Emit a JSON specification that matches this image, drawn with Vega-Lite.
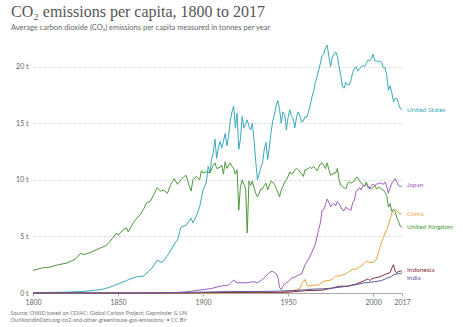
{
  "$schema": "https://vega.github.io/schema/vega-lite/v6.json",
  "width": 369,
  "height": 249,
  "autosize": {"type": "none"},
  "padding": {"left": 33, "top": 44, "right": 61, "bottom": 34},
  "background": "white",
  "config": {"view": {"stroke": null}, "font": "Lato"},
  "title": {
    "text": "CO₂ emissions per capita, 1800 to 2017",
    "subtitle": "Average carbon dioxide (CO₂) emissions per capita measured in tonnes per year",
    "anchor": "start",
    "frame": "group",
    "dx": -22,
    "offset": 12,
    "font": "Liberation Serif",
    "fontSize": 16,
    "fontWeight": "normal",
    "color": "#555555",
    "subtitleFont": "Lato",
    "subtitleFontSize": 7.5,
    "subtitleColor": "#666666",
    "subtitlePadding": 4
  },
  "datasets": {
    "co2": [
      {"country": "United States", "year": 1800, "value": 0.03},
      {"country": "United States", "year": 1810, "value": 0.05},
      {"country": "United States", "year": 1820, "value": 0.08},
      {"country": "United States", "year": 1830, "value": 0.15},
      {"country": "United States", "year": 1840, "value": 0.3},
      {"country": "United States", "year": 1845, "value": 0.5},
      {"country": "United States", "year": 1850, "value": 0.8},
      {"country": "United States", "year": 1855, "value": 1.1},
      {"country": "United States", "year": 1860, "value": 1.4},
      {"country": "United States", "year": 1865, "value": 1.5},
      {"country": "United States", "year": 1868, "value": 1.9},
      {"country": "United States", "year": 1870, "value": 2.2},
      {"country": "United States", "year": 1873, "value": 2.9},
      {"country": "United States", "year": 1876, "value": 2.7},
      {"country": "United States", "year": 1880, "value": 3.5},
      {"country": "United States", "year": 1883, "value": 4.3},
      {"country": "United States", "year": 1885, "value": 4.7},
      {"country": "United States", "year": 1887, "value": 5.8},
      {"country": "United States", "year": 1890, "value": 6.0},
      {"country": "United States", "year": 1893, "value": 6.6},
      {"country": "United States", "year": 1894, "value": 6.2},
      {"country": "United States", "year": 1896, "value": 6.8},
      {"country": "United States", "year": 1898, "value": 7.6},
      {"country": "United States", "year": 1900, "value": 9.1},
      {"country": "United States", "year": 1902, "value": 9.8},
      {"country": "United States", "year": 1903, "value": 11.2},
      {"country": "United States", "year": 1904, "value": 10.6},
      {"country": "United States", "year": 1905, "value": 11.8},
      {"country": "United States", "year": 1906, "value": 12.4},
      {"country": "United States", "year": 1907, "value": 13.6},
      {"country": "United States", "year": 1908, "value": 11.9},
      {"country": "United States", "year": 1909, "value": 12.8},
      {"country": "United States", "year": 1910, "value": 13.4},
      {"country": "United States", "year": 1911, "value": 12.8},
      {"country": "United States", "year": 1912, "value": 13.4},
      {"country": "United States", "year": 1913, "value": 14.1},
      {"country": "United States", "year": 1914, "value": 13.0},
      {"country": "United States", "year": 1915, "value": 13.8},
      {"country": "United States", "year": 1916, "value": 15.2},
      {"country": "United States", "year": 1917, "value": 16.0},
      {"country": "United States", "year": 1918, "value": 16.5},
      {"country": "United States", "year": 1919, "value": 14.6},
      {"country": "United States", "year": 1920, "value": 15.9},
      {"country": "United States", "year": 1921, "value": 12.7},
      {"country": "United States", "year": 1922, "value": 13.6},
      {"country": "United States", "year": 1923, "value": 15.6},
      {"country": "United States", "year": 1924, "value": 14.6},
      {"country": "United States", "year": 1925, "value": 14.9},
      {"country": "United States", "year": 1926, "value": 15.3},
      {"country": "United States", "year": 1927, "value": 14.7},
      {"country": "United States", "year": 1928, "value": 14.4},
      {"country": "United States", "year": 1929, "value": 15.0},
      {"country": "United States", "year": 1930, "value": 13.5},
      {"country": "United States", "year": 1931, "value": 11.6},
      {"country": "United States", "year": 1932, "value": 10.0},
      {"country": "United States", "year": 1933, "value": 10.5},
      {"country": "United States", "year": 1934, "value": 11.1},
      {"country": "United States", "year": 1935, "value": 11.5},
      {"country": "United States", "year": 1936, "value": 12.7},
      {"country": "United States", "year": 1937, "value": 13.3},
      {"country": "United States", "year": 1938, "value": 11.8},
      {"country": "United States", "year": 1939, "value": 12.9},
      {"country": "United States", "year": 1940, "value": 14.2},
      {"country": "United States", "year": 1941, "value": 15.2},
      {"country": "United States", "year": 1942, "value": 15.8},
      {"country": "United States", "year": 1943, "value": 16.6},
      {"country": "United States", "year": 1944, "value": 17.0},
      {"country": "United States", "year": 1945, "value": 16.2},
      {"country": "United States", "year": 1946, "value": 15.0},
      {"country": "United States", "year": 1947, "value": 16.0},
      {"country": "United States", "year": 1948, "value": 15.8},
      {"country": "United States", "year": 1949, "value": 14.4},
      {"country": "United States", "year": 1950, "value": 15.5},
      {"country": "United States", "year": 1951, "value": 16.2},
      {"country": "United States", "year": 1952, "value": 15.6},
      {"country": "United States", "year": 1953, "value": 15.4},
      {"country": "United States", "year": 1954, "value": 14.6},
      {"country": "United States", "year": 1955, "value": 15.6},
      {"country": "United States", "year": 1956, "value": 16.0},
      {"country": "United States", "year": 1957, "value": 15.6},
      {"country": "United States", "year": 1958, "value": 15.1},
      {"country": "United States", "year": 1959, "value": 15.2},
      {"country": "United States", "year": 1960, "value": 15.6},
      {"country": "United States", "year": 1961, "value": 15.5},
      {"country": "United States", "year": 1962, "value": 16.0},
      {"country": "United States", "year": 1963, "value": 16.6},
      {"country": "United States", "year": 1964, "value": 17.3},
      {"country": "United States", "year": 1965, "value": 17.8},
      {"country": "United States", "year": 1966, "value": 18.6},
      {"country": "United States", "year": 1967, "value": 19.1},
      {"country": "United States", "year": 1968, "value": 19.7},
      {"country": "United States", "year": 1969, "value": 20.3},
      {"country": "United States", "year": 1970, "value": 21.0},
      {"country": "United States", "year": 1971, "value": 21.1},
      {"country": "United States", "year": 1972, "value": 21.7},
      {"country": "United States", "year": 1973, "value": 21.9},
      {"country": "United States", "year": 1974, "value": 20.9},
      {"country": "United States", "year": 1975, "value": 20.0},
      {"country": "United States", "year": 1976, "value": 20.8},
      {"country": "United States", "year": 1977, "value": 21.1},
      {"country": "United States", "year": 1978, "value": 21.3},
      {"country": "United States", "year": 1979, "value": 20.9},
      {"country": "United States", "year": 1980, "value": 20.0},
      {"country": "United States", "year": 1981, "value": 19.2},
      {"country": "United States", "year": 1982, "value": 18.2},
      {"country": "United States", "year": 1983, "value": 18.1},
      {"country": "United States", "year": 1984, "value": 18.6},
      {"country": "United States", "year": 1985, "value": 18.4},
      {"country": "United States", "year": 1986, "value": 18.4},
      {"country": "United States", "year": 1987, "value": 18.8},
      {"country": "United States", "year": 1988, "value": 19.5},
      {"country": "United States", "year": 1989, "value": 19.8},
      {"country": "United States", "year": 1990, "value": 20.0},
      {"country": "United States", "year": 1991, "value": 19.6},
      {"country": "United States", "year": 1992, "value": 19.8},
      {"country": "United States", "year": 1993, "value": 20.0},
      {"country": "United States", "year": 1994, "value": 20.1},
      {"country": "United States", "year": 1995, "value": 20.0},
      {"country": "United States", "year": 1996, "value": 20.3},
      {"country": "United States", "year": 1997, "value": 20.6},
      {"country": "United States", "year": 1998, "value": 20.5},
      {"country": "United States", "year": 1999, "value": 20.7},
      {"country": "United States", "year": 2000, "value": 21.1},
      {"country": "United States", "year": 2001, "value": 20.5},
      {"country": "United States", "year": 2002, "value": 20.5},
      {"country": "United States", "year": 2003, "value": 20.4},
      {"country": "United States", "year": 2004, "value": 20.5},
      {"country": "United States", "year": 2005, "value": 20.4},
      {"country": "United States", "year": 2006, "value": 19.9},
      {"country": "United States", "year": 2007, "value": 19.9},
      {"country": "United States", "year": 2008, "value": 19.3},
      {"country": "United States", "year": 2009, "value": 17.9},
      {"country": "United States", "year": 2010, "value": 18.3},
      {"country": "United States", "year": 2011, "value": 17.7},
      {"country": "United States", "year": 2012, "value": 16.9},
      {"country": "United States", "year": 2013, "value": 17.2},
      {"country": "United States", "year": 2014, "value": 17.2},
      {"country": "United States", "year": 2015, "value": 16.7},
      {"country": "United States", "year": 2016, "value": 16.3},
      {"country": "United States", "year": 2017, "value": 16.2},

      {"country": "United Kingdom", "year": 1800, "value": 2.0},
      {"country": "United Kingdom", "year": 1805, "value": 2.2},
      {"country": "United Kingdom", "year": 1810, "value": 2.3},
      {"country": "United Kingdom", "year": 1815, "value": 2.5},
      {"country": "United Kingdom", "year": 1820, "value": 2.65},
      {"country": "United Kingdom", "year": 1825, "value": 3.0},
      {"country": "United Kingdom", "year": 1828, "value": 3.5},
      {"country": "United Kingdom", "year": 1830, "value": 3.4},
      {"country": "United Kingdom", "year": 1834, "value": 3.6},
      {"country": "United Kingdom", "year": 1837, "value": 3.8},
      {"country": "United Kingdom", "year": 1840, "value": 4.0},
      {"country": "United Kingdom", "year": 1843, "value": 4.2},
      {"country": "United Kingdom", "year": 1845, "value": 4.5},
      {"country": "United Kingdom", "year": 1847, "value": 4.9},
      {"country": "United Kingdom", "year": 1849, "value": 5.3},
      {"country": "United Kingdom", "year": 1850, "value": 5.1},
      {"country": "United Kingdom", "year": 1853, "value": 5.6},
      {"country": "United Kingdom", "year": 1855, "value": 5.75},
      {"country": "United Kingdom", "year": 1856, "value": 5.4},
      {"country": "United Kingdom", "year": 1859, "value": 6.2},
      {"country": "United Kingdom", "year": 1861, "value": 6.6},
      {"country": "United Kingdom", "year": 1863, "value": 6.9},
      {"country": "United Kingdom", "year": 1865, "value": 7.4},
      {"country": "United Kingdom", "year": 1867, "value": 8.0},
      {"country": "United Kingdom", "year": 1869, "value": 8.1},
      {"country": "United Kingdom", "year": 1871, "value": 8.7},
      {"country": "United Kingdom", "year": 1873, "value": 9.3},
      {"country": "United Kingdom", "year": 1875, "value": 9.0},
      {"country": "United Kingdom", "year": 1877, "value": 9.1},
      {"country": "United Kingdom", "year": 1879, "value": 8.8},
      {"country": "United Kingdom", "year": 1881, "value": 9.6},
      {"country": "United Kingdom", "year": 1883, "value": 10.1},
      {"country": "United Kingdom", "year": 1885, "value": 9.6},
      {"country": "United Kingdom", "year": 1887, "value": 10.0},
      {"country": "United Kingdom", "year": 1889, "value": 10.3},
      {"country": "United Kingdom", "year": 1890, "value": 10.4},
      {"country": "United Kingdom", "year": 1892, "value": 9.4},
      {"country": "United Kingdom", "year": 1893, "value": 9.0},
      {"country": "United Kingdom", "year": 1894, "value": 10.0},
      {"country": "United Kingdom", "year": 1896, "value": 10.3},
      {"country": "United Kingdom", "year": 1898, "value": 10.0},
      {"country": "United Kingdom", "year": 1899, "value": 10.8},
      {"country": "United Kingdom", "year": 1900, "value": 10.6},
      {"country": "United Kingdom", "year": 1902, "value": 10.7},
      {"country": "United Kingdom", "year": 1904, "value": 10.6},
      {"country": "United Kingdom", "year": 1906, "value": 11.3},
      {"country": "United Kingdom", "year": 1907, "value": 11.5},
      {"country": "United Kingdom", "year": 1908, "value": 11.0},
      {"country": "United Kingdom", "year": 1910, "value": 11.1},
      {"country": "United Kingdom", "year": 1911, "value": 11.3},
      {"country": "United Kingdom", "year": 1912, "value": 10.5},
      {"country": "United Kingdom", "year": 1913, "value": 11.6},
      {"country": "United Kingdom", "year": 1914, "value": 11.0},
      {"country": "United Kingdom", "year": 1916, "value": 11.5},
      {"country": "United Kingdom", "year": 1917, "value": 11.2},
      {"country": "United Kingdom", "year": 1918, "value": 11.0},
      {"country": "United Kingdom", "year": 1919, "value": 10.5},
      {"country": "United Kingdom", "year": 1920, "value": 10.9},
      {"country": "United Kingdom", "year": 1921, "value": 7.3},
      {"country": "United Kingdom", "year": 1922, "value": 9.4},
      {"country": "United Kingdom", "year": 1923, "value": 10.0},
      {"country": "United Kingdom", "year": 1924, "value": 9.6},
      {"country": "United Kingdom", "year": 1925, "value": 9.3},
      {"country": "United Kingdom", "year": 1926, "value": 5.3},
      {"country": "United Kingdom", "year": 1927, "value": 9.9},
      {"country": "United Kingdom", "year": 1928, "value": 9.5},
      {"country": "United Kingdom", "year": 1929, "value": 9.9},
      {"country": "United Kingdom", "year": 1930, "value": 9.3},
      {"country": "United Kingdom", "year": 1931, "value": 8.8},
      {"country": "United Kingdom", "year": 1932, "value": 8.5},
      {"country": "United Kingdom", "year": 1933, "value": 8.8},
      {"country": "United Kingdom", "year": 1934, "value": 9.2},
      {"country": "United Kingdom", "year": 1935, "value": 9.2},
      {"country": "United Kingdom", "year": 1936, "value": 9.5},
      {"country": "United Kingdom", "year": 1937, "value": 9.7},
      {"country": "United Kingdom", "year": 1938, "value": 9.1},
      {"country": "United Kingdom", "year": 1939, "value": 9.5},
      {"country": "United Kingdom", "year": 1940, "value": 9.9},
      {"country": "United Kingdom", "year": 1941, "value": 9.8},
      {"country": "United Kingdom", "year": 1942, "value": 9.6},
      {"country": "United Kingdom", "year": 1943, "value": 9.2},
      {"country": "United Kingdom", "year": 1944, "value": 8.9},
      {"country": "United Kingdom", "year": 1945, "value": 8.5},
      {"country": "United Kingdom", "year": 1946, "value": 9.1},
      {"country": "United Kingdom", "year": 1947, "value": 9.4},
      {"country": "United Kingdom", "year": 1948, "value": 9.8},
      {"country": "United Kingdom", "year": 1949, "value": 10.0},
      {"country": "United Kingdom", "year": 1950, "value": 10.3},
      {"country": "United Kingdom", "year": 1951, "value": 10.7},
      {"country": "United Kingdom", "year": 1952, "value": 10.5},
      {"country": "United Kingdom", "year": 1953, "value": 10.6},
      {"country": "United Kingdom", "year": 1954, "value": 10.9},
      {"country": "United Kingdom", "year": 1955, "value": 11.0},
      {"country": "United Kingdom", "year": 1956, "value": 10.9},
      {"country": "United Kingdom", "year": 1957, "value": 10.7},
      {"country": "United Kingdom", "year": 1958, "value": 10.5},
      {"country": "United Kingdom", "year": 1959, "value": 10.3},
      {"country": "United Kingdom", "year": 1960, "value": 10.9},
      {"country": "United Kingdom", "year": 1961, "value": 10.9},
      {"country": "United Kingdom", "year": 1962, "value": 11.0},
      {"country": "United Kingdom", "year": 1963, "value": 11.1},
      {"country": "United Kingdom", "year": 1964, "value": 11.0},
      {"country": "United Kingdom", "year": 1965, "value": 11.2},
      {"country": "United Kingdom", "year": 1966, "value": 11.0},
      {"country": "United Kingdom", "year": 1967, "value": 10.8},
      {"country": "United Kingdom", "year": 1968, "value": 11.1},
      {"country": "United Kingdom", "year": 1969, "value": 11.4},
      {"country": "United Kingdom", "year": 1970, "value": 11.5},
      {"country": "United Kingdom", "year": 1971, "value": 11.3},
      {"country": "United Kingdom", "year": 1972, "value": 11.0},
      {"country": "United Kingdom", "year": 1973, "value": 11.5},
      {"country": "United Kingdom", "year": 1974, "value": 10.9},
      {"country": "United Kingdom", "year": 1975, "value": 10.4},
      {"country": "United Kingdom", "year": 1976, "value": 10.5},
      {"country": "United Kingdom", "year": 1977, "value": 10.6},
      {"country": "United Kingdom", "year": 1978, "value": 10.6},
      {"country": "United Kingdom", "year": 1979, "value": 11.0},
      {"country": "United Kingdom", "year": 1980, "value": 10.0},
      {"country": "United Kingdom", "year": 1981, "value": 9.5},
      {"country": "United Kingdom", "year": 1982, "value": 9.4},
      {"country": "United Kingdom", "year": 1983, "value": 9.3},
      {"country": "United Kingdom", "year": 1984, "value": 9.2},
      {"country": "United Kingdom", "year": 1985, "value": 9.7},
      {"country": "United Kingdom", "year": 1986, "value": 9.8},
      {"country": "United Kingdom", "year": 1987, "value": 9.7},
      {"country": "United Kingdom", "year": 1988, "value": 9.8},
      {"country": "United Kingdom", "year": 1989, "value": 9.9},
      {"country": "United Kingdom", "year": 1990, "value": 10.2},
      {"country": "United Kingdom", "year": 1991, "value": 10.2},
      {"country": "United Kingdom", "year": 1992, "value": 9.9},
      {"country": "United Kingdom", "year": 1993, "value": 9.7},
      {"country": "United Kingdom", "year": 1994, "value": 9.6},
      {"country": "United Kingdom", "year": 1995, "value": 9.4},
      {"country": "United Kingdom", "year": 1996, "value": 9.8},
      {"country": "United Kingdom", "year": 1997, "value": 9.3},
      {"country": "United Kingdom", "year": 1998, "value": 9.3},
      {"country": "United Kingdom", "year": 1999, "value": 9.2},
      {"country": "United Kingdom", "year": 2000, "value": 9.3},
      {"country": "United Kingdom", "year": 2001, "value": 9.5},
      {"country": "United Kingdom", "year": 2002, "value": 9.2},
      {"country": "United Kingdom", "year": 2003, "value": 9.3},
      {"country": "United Kingdom", "year": 2004, "value": 9.3},
      {"country": "United Kingdom", "year": 2005, "value": 9.2},
      {"country": "United Kingdom", "year": 2006, "value": 9.1},
      {"country": "United Kingdom", "year": 2007, "value": 8.9},
      {"country": "United Kingdom", "year": 2008, "value": 8.6},
      {"country": "United Kingdom", "year": 2009, "value": 7.6},
      {"country": "United Kingdom", "year": 2010, "value": 7.9},
      {"country": "United Kingdom", "year": 2011, "value": 7.2},
      {"country": "United Kingdom", "year": 2012, "value": 7.4},
      {"country": "United Kingdom", "year": 2013, "value": 7.2},
      {"country": "United Kingdom", "year": 2014, "value": 6.6},
      {"country": "United Kingdom", "year": 2015, "value": 6.3},
      {"country": "United Kingdom", "year": 2016, "value": 5.9},
      {"country": "United Kingdom", "year": 2017, "value": 5.8},

      {"country": "Japan", "year": 1800, "value": 0.0},
      {"country": "Japan", "year": 1870, "value": 0.0},
      {"country": "Japan", "year": 1880, "value": 0.02},
      {"country": "Japan", "year": 1885, "value": 0.05},
      {"country": "Japan", "year": 1890, "value": 0.1},
      {"country": "Japan", "year": 1895, "value": 0.2},
      {"country": "Japan", "year": 1900, "value": 0.3},
      {"country": "Japan", "year": 1905, "value": 0.4},
      {"country": "Japan", "year": 1910, "value": 0.6},
      {"country": "Japan", "year": 1915, "value": 0.7},
      {"country": "Japan", "year": 1918, "value": 1.15},
      {"country": "Japan", "year": 1920, "value": 0.9},
      {"country": "Japan", "year": 1925, "value": 0.9},
      {"country": "Japan", "year": 1930, "value": 1.0},
      {"country": "Japan", "year": 1932, "value": 0.9},
      {"country": "Japan", "year": 1935, "value": 1.2},
      {"country": "Japan", "year": 1937, "value": 1.5},
      {"country": "Japan", "year": 1939, "value": 1.8},
      {"country": "Japan", "year": 1940, "value": 1.9},
      {"country": "Japan", "year": 1941, "value": 1.9},
      {"country": "Japan", "year": 1942, "value": 1.8},
      {"country": "Japan", "year": 1943, "value": 1.7},
      {"country": "Japan", "year": 1944, "value": 1.4},
      {"country": "Japan", "year": 1945, "value": 0.5},
      {"country": "Japan", "year": 1946, "value": 0.3},
      {"country": "Japan", "year": 1947, "value": 0.6},
      {"country": "Japan", "year": 1948, "value": 0.8},
      {"country": "Japan", "year": 1950, "value": 1.0},
      {"country": "Japan", "year": 1952, "value": 1.3},
      {"country": "Japan", "year": 1954, "value": 1.4},
      {"country": "Japan", "year": 1956, "value": 1.6},
      {"country": "Japan", "year": 1958, "value": 1.7},
      {"country": "Japan", "year": 1960, "value": 2.5},
      {"country": "Japan", "year": 1962, "value": 3.0},
      {"country": "Japan", "year": 1964, "value": 3.6},
      {"country": "Japan", "year": 1966, "value": 4.3},
      {"country": "Japan", "year": 1968, "value": 5.6},
      {"country": "Japan", "year": 1969, "value": 6.2},
      {"country": "Japan", "year": 1970, "value": 7.3},
      {"country": "Japan", "year": 1971, "value": 7.4},
      {"country": "Japan", "year": 1972, "value": 7.8},
      {"country": "Japan", "year": 1973, "value": 8.3},
      {"country": "Japan", "year": 1974, "value": 8.0},
      {"country": "Japan", "year": 1975, "value": 7.6},
      {"country": "Japan", "year": 1976, "value": 7.8},
      {"country": "Japan", "year": 1977, "value": 7.9},
      {"country": "Japan", "year": 1978, "value": 7.7},
      {"country": "Japan", "year": 1979, "value": 8.1},
      {"country": "Japan", "year": 1980, "value": 7.9},
      {"country": "Japan", "year": 1981, "value": 7.6},
      {"country": "Japan", "year": 1982, "value": 7.3},
      {"country": "Japan", "year": 1983, "value": 7.3},
      {"country": "Japan", "year": 1984, "value": 7.6},
      {"country": "Japan", "year": 1985, "value": 7.4},
      {"country": "Japan", "year": 1986, "value": 7.4},
      {"country": "Japan", "year": 1987, "value": 7.3},
      {"country": "Japan", "year": 1988, "value": 8.0},
      {"country": "Japan", "year": 1989, "value": 8.2},
      {"country": "Japan", "year": 1990, "value": 9.0},
      {"country": "Japan", "year": 1991, "value": 9.1},
      {"country": "Japan", "year": 1992, "value": 9.3},
      {"country": "Japan", "year": 1993, "value": 9.1},
      {"country": "Japan", "year": 1994, "value": 9.5},
      {"country": "Japan", "year": 1995, "value": 9.5},
      {"country": "Japan", "year": 1996, "value": 9.6},
      {"country": "Japan", "year": 1997, "value": 9.5},
      {"country": "Japan", "year": 1998, "value": 9.2},
      {"country": "Japan", "year": 1999, "value": 9.5},
      {"country": "Japan", "year": 2000, "value": 9.6},
      {"country": "Japan", "year": 2001, "value": 9.5},
      {"country": "Japan", "year": 2002, "value": 9.6},
      {"country": "Japan", "year": 2003, "value": 9.7},
      {"country": "Japan", "year": 2004, "value": 9.7},
      {"country": "Japan", "year": 2005, "value": 9.7},
      {"country": "Japan", "year": 2006, "value": 9.6},
      {"country": "Japan", "year": 2007, "value": 9.8},
      {"country": "Japan", "year": 2008, "value": 9.4},
      {"country": "Japan", "year": 2009, "value": 8.8},
      {"country": "Japan", "year": 2010, "value": 9.3},
      {"country": "Japan", "year": 2011, "value": 9.7},
      {"country": "Japan", "year": 2012, "value": 9.9},
      {"country": "Japan", "year": 2013, "value": 10.1},
      {"country": "Japan", "year": 2014, "value": 9.8},
      {"country": "Japan", "year": 2015, "value": 9.5},
      {"country": "Japan", "year": 2016, "value": 9.4},
      {"country": "Japan", "year": 2017, "value": 9.5},

      {"country": "China", "year": 1800, "value": 0.0},
      {"country": "China", "year": 1900, "value": 0.0},
      {"country": "China", "year": 1920, "value": 0.03},
      {"country": "China", "year": 1930, "value": 0.05},
      {"country": "China", "year": 1940, "value": 0.07},
      {"country": "China", "year": 1945, "value": 0.05},
      {"country": "China", "year": 1950, "value": 0.14},
      {"country": "China", "year": 1952, "value": 0.19},
      {"country": "China", "year": 1955, "value": 0.3},
      {"country": "China", "year": 1957, "value": 0.4},
      {"country": "China", "year": 1958, "value": 0.84},
      {"country": "China", "year": 1959, "value": 1.0},
      {"country": "China", "year": 1960, "value": 1.2},
      {"country": "China", "year": 1961, "value": 0.7},
      {"country": "China", "year": 1962, "value": 0.6},
      {"country": "China", "year": 1965, "value": 0.7},
      {"country": "China", "year": 1968, "value": 0.7},
      {"country": "China", "year": 1970, "value": 0.95},
      {"country": "China", "year": 1972, "value": 1.1},
      {"country": "China", "year": 1974, "value": 1.1},
      {"country": "China", "year": 1976, "value": 1.2},
      {"country": "China", "year": 1978, "value": 1.5},
      {"country": "China", "year": 1980, "value": 1.5},
      {"country": "China", "year": 1982, "value": 1.6},
      {"country": "China", "year": 1984, "value": 1.7},
      {"country": "China", "year": 1986, "value": 1.9},
      {"country": "China", "year": 1988, "value": 2.1},
      {"country": "China", "year": 1990, "value": 2.1},
      {"country": "China", "year": 1992, "value": 2.3},
      {"country": "China", "year": 1994, "value": 2.5},
      {"country": "China", "year": 1996, "value": 2.8},
      {"country": "China", "year": 1998, "value": 2.7},
      {"country": "China", "year": 2000, "value": 2.7},
      {"country": "China", "year": 2001, "value": 2.8},
      {"country": "China", "year": 2002, "value": 3.0},
      {"country": "China", "year": 2003, "value": 3.5},
      {"country": "China", "year": 2004, "value": 4.0},
      {"country": "China", "year": 2005, "value": 4.5},
      {"country": "China", "year": 2006, "value": 4.9},
      {"country": "China", "year": 2007, "value": 5.3},
      {"country": "China", "year": 2008, "value": 5.6},
      {"country": "China", "year": 2009, "value": 6.0},
      {"country": "China", "year": 2010, "value": 6.5},
      {"country": "China", "year": 2011, "value": 7.1},
      {"country": "China", "year": 2012, "value": 7.2},
      {"country": "China", "year": 2013, "value": 7.4},
      {"country": "China", "year": 2014, "value": 7.3},
      {"country": "China", "year": 2015, "value": 7.1},
      {"country": "China", "year": 2016, "value": 7.0},
      {"country": "China", "year": 2017, "value": 7.0},

      {"country": "Indonesia", "year": 1800, "value": 0.0},
      {"country": "Indonesia", "year": 1890, "value": 0.0},
      {"country": "Indonesia", "year": 1900, "value": 0.03},
      {"country": "Indonesia", "year": 1920, "value": 0.05},
      {"country": "Indonesia", "year": 1930, "value": 0.07},
      {"country": "Indonesia", "year": 1940, "value": 0.05},
      {"country": "Indonesia", "year": 1950, "value": 0.07},
      {"country": "Indonesia", "year": 1960, "value": 0.2},
      {"country": "Indonesia", "year": 1970, "value": 0.25},
      {"country": "Indonesia", "year": 1975, "value": 0.4},
      {"country": "Indonesia", "year": 1980, "value": 0.6},
      {"country": "Indonesia", "year": 1985, "value": 0.6},
      {"country": "Indonesia", "year": 1990, "value": 0.8},
      {"country": "Indonesia", "year": 1995, "value": 1.1},
      {"country": "Indonesia", "year": 1997, "value": 1.25},
      {"country": "Indonesia", "year": 1998, "value": 1.1},
      {"country": "Indonesia", "year": 2000, "value": 1.3},
      {"country": "Indonesia", "year": 2003, "value": 1.4},
      {"country": "Indonesia", "year": 2005, "value": 1.5},
      {"country": "Indonesia", "year": 2008, "value": 1.7},
      {"country": "Indonesia", "year": 2010, "value": 1.8},
      {"country": "Indonesia", "year": 2011, "value": 2.2},
      {"country": "Indonesia", "year": 2012, "value": 2.5},
      {"country": "Indonesia", "year": 2013, "value": 1.9},
      {"country": "Indonesia", "year": 2014, "value": 1.8},
      {"country": "Indonesia", "year": 2015, "value": 1.9},
      {"country": "Indonesia", "year": 2016, "value": 1.9},
      {"country": "Indonesia", "year": 2017, "value": 2.0},

      {"country": "India", "year": 1800, "value": 0.0},
      {"country": "India", "year": 1860, "value": 0.0},
      {"country": "India", "year": 1870, "value": 0.01},
      {"country": "India", "year": 1880, "value": 0.03},
      {"country": "India", "year": 1890, "value": 0.05},
      {"country": "India", "year": 1900, "value": 0.08},
      {"country": "India", "year": 1910, "value": 0.11},
      {"country": "India", "year": 1920, "value": 0.13},
      {"country": "India", "year": 1930, "value": 0.13},
      {"country": "India", "year": 1940, "value": 0.15},
      {"country": "India", "year": 1945, "value": 0.17},
      {"country": "India", "year": 1950, "value": 0.2},
      {"country": "India", "year": 1955, "value": 0.23},
      {"country": "India", "year": 1960, "value": 0.28},
      {"country": "India", "year": 1965, "value": 0.35},
      {"country": "India", "year": 1970, "value": 0.36},
      {"country": "India", "year": 1975, "value": 0.42},
      {"country": "India", "year": 1980, "value": 0.5},
      {"country": "India", "year": 1985, "value": 0.6},
      {"country": "India", "year": 1990, "value": 0.74},
      {"country": "India", "year": 1995, "value": 0.9},
      {"country": "India", "year": 2000, "value": 0.98},
      {"country": "India", "year": 2005, "value": 1.1},
      {"country": "India", "year": 2008, "value": 1.3},
      {"country": "India", "year": 2010, "value": 1.4},
      {"country": "India", "year": 2012, "value": 1.6},
      {"country": "India", "year": 2014, "value": 1.7},
      {"country": "India", "year": 2015, "value": 1.7},
      {"country": "India", "year": 2016, "value": 1.7},
      {"country": "India", "year": 2017, "value": 1.8}
    ]
  },
  "data": {"name": "co2"},
  "encoding": {
    "x": {
      "field": "year",
      "type": "quantitative",
      "scale": {"domain": [1800, 2017], "nice": false, "zero": false},
      "axis": {
        "values": [1800, 1850, 1900, 1950, 2000, 2017],
        "format": "d",
        "grid": false,
        "domain": true,
        "domainColor": "#aaaaaa",
        "ticks": true,
        "tickColor": "#aaaaaa",
        "tickSize": 3,
        "labelFontSize": 7,
        "labelColor": "#666666",
        "labelPadding": 2,
        "labelFlush": false,
        "title": [
          "Source: OWID based on CDIAC; Global Carbon Project; Gapminder & UN",
          "OurWorldInData.org/co2-and-other-greenhouse-gas-emissions/ • CC BY"
        ],
        "titleFontSize": 5.5,
        "titleFontWeight": "normal",
        "titleColor": "#777777",
        "titleAnchor": "start",
        "titleAlign": "left",
        "titleBaseline": "alphabetic",
        "titleX": -23,
        "titleY": 21,
        "titleLineHeight": 7
      }
    },
    "y": {
      "field": "value",
      "type": "quantitative",
      "scale": {"domain": [0, 22], "nice": false},
      "axis": {
        "values": [0, 5, 10, 15, 20],
        "labelExpr": "datum.value + ' t'",
        "domain": false,
        "ticks": false,
        "grid": true,
        "gridColor": "#dddddd",
        "gridDash": [3, 2],
        "labelFontSize": 7,
        "labelColor": "#666666",
        "labelPadding": 5,
        "title": null
      }
    },
    "color": {
      "field": "country",
      "type": "nominal",
      "scale": {
        "domain": ["United States", "Japan", "China", "United Kingdom", "Indonesia", "India"],
        "range": ["#38AABA", "#A05DBE", "#E9A23B", "#4C9A3A", "#883039", "#5A5AA0"]
      },
      "legend": null
    }
  },
  "layer": [
    {"mark": {"type": "line", "strokeWidth": 1, "interpolate": "linear"}},
    {
      "transform": [{"filter": "datum.year == 2017 && datum.country != 'India'"}],
      "mark": {"type": "text", "align": "left", "baseline": "middle", "dx": 5, "fontSize": 6.5}
    ,
      "encoding": {"text": {"field": "country"}}
    },
    {
      "transform": [{"filter": "datum.year == 2017 && datum.country == 'India'"}],
      "mark": {"type": "text", "align": "left", "baseline": "middle", "dx": 5, "dy": 5, "fontSize": 6.5},
      "encoding": {"text": {"field": "country"}}
    }
  ]
}
